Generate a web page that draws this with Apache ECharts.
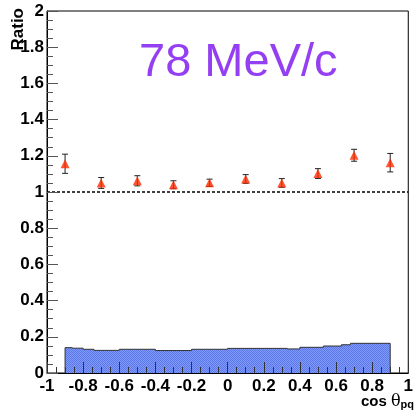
<!DOCTYPE html>
<html>
<head>
<meta charset="utf-8">
<script src="https://cdn.jsdelivr.net/npm/echarts@6/dist/echarts.min.js"></script>
<style>
html,body{margin:0;padding:0;background:#fff;}
#chart{width:416px;height:412px;}
</style>
</head>
<body>
<div id="chart"></div>
<script>
// ---- data ----
const cosTheta = [-0.9, -0.7, -0.5, -0.3, -0.1, 0.1, 0.3, 0.5, 0.7, 0.9];
const ratio    = [1.156, 1.05, 1.062, 1.04, 1.051, 1.072, 1.05, 1.102, 1.203, 1.162];
const ratioErr = [0.053, 0.03, 0.028, 0.022, 0.02, 0.024, 0.024, 0.027, 0.033, 0.051];

// systematic band (histogram): bin edges and heights
const bandEdges  = [-0.9, -0.86, -0.8, -0.74, -0.6, -0.4, -0.2, 0.0, 0.33, 0.4, 0.53, 0.63, 0.68, 0.9];
const bandValues = [0.140, 0.137, 0.131, 0.125, 0.131, 0.124, 0.131, 0.136, 0.133, 0.142, 0.149, 0.156, 0.164];

const refValue = 1;
const xTicks = {min: -1, max: 1, step: 0.2};
const yTicks = {min: 0, max: 2, step: 0.2};
const titleText = '78 MeV/c';
const yTitle = 'Ratio';

// ---- build ----
const bandBins = bandValues.map((v, i) => [bandEdges[i], bandEdges[i + 1], v]);
const pointData = cosTheta.map((x, i) => [x, ratio[i]]);
const errData = cosTheta.map((x, i) => [x, ratio[i], ratioErr[i]]);

// hatch pattern for the band
const pc = document.createElement('canvas');
pc.width = 2; pc.height = 2;
const g = pc.getContext('2d');
g.fillStyle = '#7f9bff'; g.fillRect(0, 0, 2, 2);
g.fillStyle = '#5d77e4'; g.fillRect(0, 0, 1, 1); g.fillRect(1, 1, 1, 1);

const chart = echarts.init(document.getElementById('chart'), null, {renderer: 'canvas'});
const labelFont = {fontFamily: 'Liberation Sans, Arial, sans-serif', fontWeight: 'bold', fontSize: 17, color: '#000'};

chart.setOption({
  animation: false,
  grid: {left: 47, right: 3, top: 11, bottom: 39, show: true, borderColor: '#000', borderWidth: 1, backgroundColor: 'transparent'},
  xAxis: {
    type: 'value', min: xTicks.min, max: xTicks.max, interval: xTicks.step, z: 10,
    axisLine: {show: true, onZero: false, lineStyle: {color: '#000', width: 1}},
    axisTick: {show: true, inside: true, length: 11, lineStyle: {color: '#333'}},
    minorTick: {show: true, splitNumber: 4, length: 6, lineStyle: {color: '#333'}},
    splitLine: {show: false},
    axisLabel: Object.assign({margin: 5}, labelFont)
  },
  yAxis: {
    type: 'value', min: yTicks.min, max: yTicks.max, interval: yTicks.step, z: 10,
    axisLine: {show: true, onZero: false, lineStyle: {color: '#000', width: 1}},
    axisTick: {show: true, inside: true, length: 11, lineStyle: {color: '#555'}},
    minorTick: {show: true, splitNumber: 4, length: 6, lineStyle: {color: '#555'}},
    splitLine: {show: false},
    axisLabel: Object.assign({margin: 3}, labelFont)
  },
  graphic: [
    {type: 'text', left: 139, top: 40, style: {text: titleText, font: '47px "Liberation Sans", Arial, sans-serif', fill: '#9440f2'}},
    {type: 'text', x: 18, y: 8, rotation: Math.PI / 2,
      style: {text: yTitle, font: 'bold 17px "Liberation Sans", Arial, sans-serif', fill: '#000', align: 'right', verticalAlign: 'middle'}},
    {type: 'text', right: 2, top: 394,
      style: {
        rich: {
          a: {font: 'bold 15px "Liberation Sans", Arial, sans-serif', fill: '#000'},
          t: {font: '16px "DejaVu Serif", serif', fill: '#000'},
          s: {font: 'bold 11px "Liberation Sans", Arial, sans-serif', fill: '#000', verticalAlign: 'bottom', padding: [6, 0, 0, 0]}
        },
        text: '{a|cos }{t|θ}{s|pq}'
      }}
  ],
  series: [
    {
      type: 'custom', z: 2, data: bandBins, clip: true,
      renderItem: function (params, api) {
        if (params.dataIndex !== 0) return null;
        const pts = [api.coord([bandBins[0][0], 0])];
        bandBins.forEach(b => {
          pts.push(api.coord([b[0], b[2]]));
          pts.push(api.coord([b[1], b[2]]));
        });
        const last = bandBins[bandBins.length - 1];
        pts.push(api.coord([last[1], 0]));
        return {type: 'group', children: [
          {type: 'polygon', shape: {points: pts}, style: {fill: {image: pc, repeat: 'repeat'}, stroke: null}},
          {type: 'polyline', shape: {points: pts.slice()}, style: {stroke: '#333', lineWidth: 1, fill: null}}
        ]};
      }
    },
    {
      type: 'custom', z: 4, data: errData,
      renderItem: function (params, api) {
        const x = api.value(0), y = api.value(1), e = api.value(2);
        const top = api.coord([x, y + e]);
        const bot = api.coord([x, y - e]);
        const cw = 3;
        const st = {stroke: '#222', lineWidth: 1};
        return {type: 'group', children: [
          {type: 'line', shape: {x1: top[0], y1: top[1], x2: bot[0], y2: bot[1]}, style: st},
          {type: 'line', shape: {x1: top[0] - cw, y1: top[1], x2: top[0] + cw, y2: top[1]}, style: st},
          {type: 'line', shape: {x1: bot[0] - cw, y1: bot[1], x2: bot[0] + cw, y2: bot[1]}, style: st}
        ]};
      }
    },
    {
      type: 'scatter', data: pointData, symbol: 'triangle', symbolSize: [9, 9], z: 5,
      itemStyle: {color: '#ff2a00'},
      markLine: {
        silent: true, symbol: 'none', animation: false,
        label: {show: false},
        lineStyle: {color: '#000', type: [3, 2], width: 1.5},
        data: [{yAxis: refValue}]
      }
    }
  ]
});
</script>
</body>
</html>
